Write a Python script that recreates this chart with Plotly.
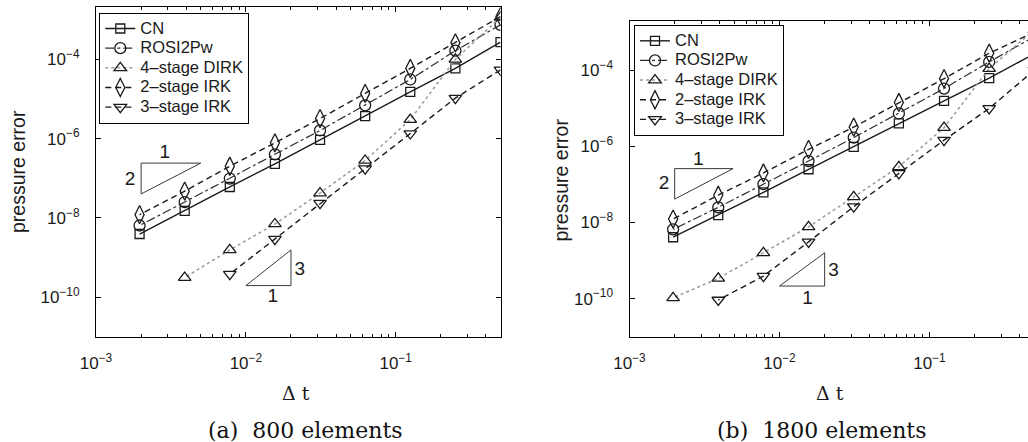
import math
import plotly.graph_objects as go

# ---------------- data ----------------
dt = [0.5, 0.25, 0.125, 0.0625, 0.03125, 0.015625, 0.0078125, 0.00390625, 0.001953125]
series_names = ["CN", "ROSI2Pw", "4\u2013stage DIRK", "2\u2013stage IRK", "3\u2013stage IRK"]

# panel (a): 800 elements
a_cn = [2.7e-4, 5.9e-5, 1.5e-5, 3.7e-6, 9.3e-7, 2.3e-7, 6.0e-8, 1.5e-8, 3.9e-9]
a_rosi = [7.4e-4, 1.65e-4, 3.1e-5, 6.9e-6, 1.6e-6, 4.0e-7, 9.8e-8, 2.5e-8, 6.4e-9]
a_dirk = [1.15e-3, 1.0e-4, 3.0e-6, 2.8e-7, 4.2e-8, 7.0e-9, 1.55e-9, 3.1e-10, None]
a_irk2 = [1.2e-3, 2.6e-4, 5.9e-5, 1.38e-5, 3.2e-6, 7.8e-7, 2.0e-7, 4.7e-8, 1.2e-8]
a_irk3 = [5.4e-5, 1.05e-5, 1.34e-6, 1.74e-7, 2.35e-8, 2.9e-9, 3.8e-10, None, None]

# panel (b): 1800 elements
b_cn = [2.7e-4, 6.2e-5, 1.57e-5, 4.0e-6, 9.7e-7, 2.5e-7, 6.2e-8, 1.56e-8, 4.1e-9]
b_rosi = [7.6e-4, 1.65e-4, 3.3e-5, 7.3e-6, 1.7e-6, 4.1e-7, 1.02e-7, 2.5e-8, 6.6e-9]
b_dirk = [1.15e-3, 1.1e-4, 3.1e-6, 2.9e-7, 4.7e-8, 7.7e-9, 1.6e-9, 3.4e-10, 1.05e-10]
b_irk2 = [1.0e-3, 2.8e-4, 6.0e-5, 1.42e-5, 3.2e-6, 8.3e-7, 2.0e-7, 5.2e-8, 1.23e-8]
b_irk3 = [1.0e-4, 9.9e-6, 1.45e-6, 1.94e-7, 2.6e-8, 3.1e-9, 3.9e-10, 9.2e-11, None]

# slope triangles (data coordinates)
tri_a2_x = [0.005, 0.002, 0.002, 0.005]
tri_a2_y = [2.4e-7, 2.4e-7, 4.0e-8, 2.4e-7]
tri_a3_x = [0.01, 0.02, 0.02, 0.01]
tri_a3_y = [1.95e-10, 1.95e-10, 1.55e-9, 1.95e-10]
tri_b2_x = [0.0049, 0.002, 0.002, 0.0049]
tri_b2_y = [2.6e-7, 2.6e-7, 4.1e-8, 2.6e-7]
tri_b3_x = [0.01, 0.02, 0.02, 0.01]
tri_b3_y = [2.14e-10, 2.14e-10, 1.6e-9, 2.14e-10]

slope_labels = ["1", "2", "3", "1"]
lab_a_x = [0.00288, 0.00169, 0.0229, 0.0151]
lab_a_y = [4.3e-7, 8.8e-8, 4.7e-10, 9.8e-11]
lab_b_x = [0.00287, 0.0017, 0.0229, 0.0154]
lab_b_y = [4.2e-7, 1.0e-7, 5.1e-10, 9.5e-11]

x_tick_vals = [1e-3, 1e-2, 1e-1]
x_tick_text = ["10<sup>\u22123</sup>", "10<sup>\u22122</sup>", "10<sup>\u22121</sup>"]
y_tick_vals = [1e-10, 1e-8, 1e-6, 1e-4]
y_tick_text = ["10<sup>\u221210</sup>", "10<sup>\u22128</sup>", "10<sup>\u22126</sup>", "10<sup>\u22124</sup>"]

captions = ["(a)\u00a0\u00a0800 elements", "(b)\u00a0\u00a01800 elements"]
x_title = "\u0394 t"
y_title = "pressure error"

# ---------------- styles ----------------
W, H = 1028, 442
INK = "#1a1a1a"
SANS = "Liberation Sans, Arial, Helvetica, sans-serif"
SERIF = "DejaVu Serif, Liberation Serif, serif"

styles = [
    dict(symbol="square-open", size=9, dash="solid", color=INK, width=1.4),
    dict(symbol="circle-open", size=11, dash="dashdot", color="#2e2e2e", width=1.2),
    dict(symbol="triangle-up-open", size=11, dash="dot", color="#999999", width=1.5),
    dict(symbol="diamond-tall-open", size=13, dash="6px,4px", color=INK, width=1.4),
    dict(symbol="triangle-down-open", size=11, dash="6px,4px", color=INK, width=1.4),
]

fig = go.Figure()

panels = [
    ("x", "y", "legend", [a_cn, a_rosi, a_dirk, a_irk2, a_irk3],
     [(tri_a2_x, tri_a2_y), (tri_a3_x, tri_a3_y)], (lab_a_x, lab_a_y)),
    ("x2", "y2", "legend2", [b_cn, b_rosi, b_dirk, b_irk2, b_irk3],
     [(tri_b2_x, tri_b2_y), (tri_b3_x, tri_b3_y)], (lab_b_x, lab_b_y)),
]

for xa, ya, leg, series, tris, labs in panels:
    for tx, ty in tris:
        fig.add_trace(go.Scatter(x=tx, y=ty, mode="lines", xaxis=xa, yaxis=ya,
                                 line=dict(color="#3a3a3a", width=1), showlegend=False,
                                 hoverinfo="skip"))
    fig.add_trace(go.Scatter(x=labs[0], y=labs[1], text=slope_labels, mode="text",
                             xaxis=xa, yaxis=ya, showlegend=False, hoverinfo="skip",
                             textfont=dict(family=SANS, size=19, color=INK),
                             textposition="middle center"))
    for name, vals, st in zip(series_names, series, styles):
        fig.add_trace(go.Scatter(
            x=dt, y=vals, name='<span style="font-size:16.5px">' + name + "</span>",
            mode="lines+markers", xaxis=xa, yaxis=ya,
            legend=leg, connectgaps=False, cliponaxis=True,
            line=dict(color=st["color"], width=st["width"], dash=st["dash"]),
            marker=dict(symbol=st["symbol"], size=st["size"], color=INK,
                        line=dict(color=INK, width=1.3)),
        ))


def xaxis_style(domain, rng, mirror, anchor):
    return dict(type="log", domain=domain, range=rng, anchor=anchor,
                tickmode="array", tickvals=x_tick_vals, ticktext=x_tick_text,
                showline=True, linecolor="black", linewidth=1,
                mirror=mirror, ticks="inside", ticklen=5, tickcolor="black",
                showgrid=False, zeroline=False, automargin=False,
                ticklabelstandoff=11,
                tickfont=dict(family=SANS, size=17, color=INK),
                minor=dict(dtick="D1", ticks="inside", ticklen=3,
                           tickcolor="black", showgrid=False))


def yaxis_style(domain, rng, anchor, mirror):
    return dict(type="log", domain=domain, range=rng, anchor=anchor,
                tickmode="array", tickvals=y_tick_vals, ticktext=y_tick_text,
                showline=True, linecolor="black", linewidth=1,
                mirror=mirror, ticks="inside", ticklen=5, tickcolor="black",
                showgrid=False, zeroline=False, automargin=False,
                ticklabelstandoff=12,
                tickfont=dict(family=SANS, size=17, color=INK))


xa_dom = [96 / W, 500.5 / W]
xb_dom = [629.5 / W, 1.0]
ya_dom = [1 - 336.7 / H, 1 - 7 / H]
yb_dom = [1 - 336.7 / H, 1 - 20.7 / H]

legend_common = dict(bgcolor="white", bordercolor="black", borderwidth=1,
                     font=dict(family=SANS, size=12.8, color=INK),
                     xanchor="left", yanchor="top", tracegroupgap=0,
                     itemwidth=30)

fig.update_layout(
    width=W, height=H, template="none",
    paper_bgcolor="white", plot_bgcolor="white",
    margin=dict(l=0, r=0, t=0, b=0),
    showlegend=True,
    xaxis=xaxis_style(xa_dom, [-3, math.log10(0.5)], "ticks", "y"),
    yaxis=yaxis_style(ya_dom, [-11, -2.68], "x", "ticks"),
    xaxis2=xaxis_style(xb_dom, [-3, -3 + (W - 629.5) / 150.0], "ticks", "y2"),
    yaxis2=yaxis_style(yb_dom, [-11, -2.7], "x2", False),
    legend=dict(x=99.3 / W, y=1 - 12.7 / H, **legend_common),
    legend2=dict(x=634 / W, y=1 - 25 / H, **legend_common),
)

annos = [
    dict(x=296 / W, y=1 - 392.5 / H, text=x_title, font=dict(family=SERIF, size=19, color=INK)),
    dict(x=830 / W, y=1 - 392.5 / H, text=x_title, font=dict(family=SERIF, size=19, color=INK)),
    dict(x=18.5 / W, y=1 - 171.5 / H, text=y_title, textangle=-90,
         font=dict(family=SANS, size=19.5, color=INK)),
    dict(x=560.5 / W, y=1 - 180 / H, text=y_title, textangle=-90,
         font=dict(family=SANS, size=19.5, color=INK)),
    dict(x=305 / W, y=1 - 430.5 / H, text=captions[0], font=dict(family=SERIF, size=22, color="#111")),
    dict(x=821.8 / W, y=1 - 430.5 / H, text=captions[1], font=dict(family=SERIF, size=22, color="#111")),
]
for a in annos:
    a.update(xref="paper", yref="paper", showarrow=False, xanchor="center", yanchor="middle")
fig.update_layout(annotations=annos)

fig.write_html("out.html", config={"displayModeBar": False},
               post_script="document.body.style.margin='0';document.body.style.overflow='hidden';")
